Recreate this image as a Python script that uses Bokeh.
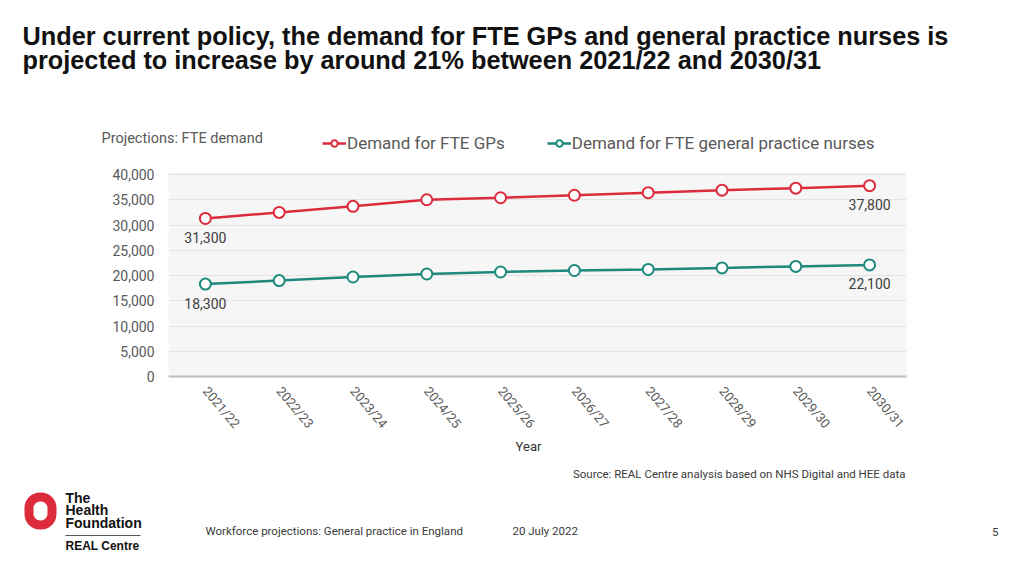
from bokeh.plotting import figure
from bokeh.layouts import column
from bokeh.models import (FactorRange, Range1d, FixedTicker, NumeralTickFormatter,
                          Label, Legend, LegendItem, BoxAnnotation, ColumnDataSource)
from bokeh.core.properties import value
from bokeh.embed import file_html
from bokeh.resources import INLINE

years = ["2021/22", "2022/23", "2023/24", "2024/25", "2025/26",
         "2026/27", "2027/28", "2028/29", "2029/30", "2030/31"]
gp_demand = [31300, 32500, 33700, 35000, 35400, 35900, 36400, 36900, 37300, 37800]
nurse_demand = [18300, 19000, 19700, 20300, 20700, 21000, 21200, 21500, 21800, 22100]
y_ticks = [0, 5000, 10000, 15000, 20000, 25000, 30000, 35000, 40000]
series_names = ["Demand for FTE GPs", "Demand for FTE general practice nurses"]

RED = "#dc2c3c"
TEAL = "#1e897c"
GREY = "#595959"
DARK = "#3a3a3a"
FONT = "Roboto"
ARIAL = "Liberation Sans"
W = 1008
H_HEAD, H_MAIN, H_FOOT = 160, 278, 122


def blank(height, y_top):
    f = figure(width=W, height=height, x_range=Range1d(0, W), y_range=Range1d(y_top + height, y_top),
               x_axis_type=None, y_axis_type=None, output_backend="svg", toolbar_location=None,
               min_border=0, frame_align=False)
    f.outline_line_color = None
    return f


def lab(fig, text, x, y, size, color=DARK, bold=False, align="left", baseline="middle", font=FONT):
    fig.add_layout(Label(x=x, y=y, text=text, text_font=font, text_font_size=size,
                         text_color=color, text_font_style="bold" if bold else "normal",
                         text_align=align, text_baseline=baseline))


def series(fig, xs, ys, color):
    ln = fig.line(xs, ys, line_color=color, line_width=2.5)
    pt = fig.scatter(xs, ys, marker="circle", size=11, fill_color="white",
                     line_color=color, line_width=2)
    return [ln, pt]


# ---------- header: title, chart heading and legend ----------
header = blank(H_HEAD, 0)
lab(header, "Under current policy, the demand for FTE GPs and general practice nurses is",
    22, 35, "25.3px", color="#111111", bold=True, font=ARIAL)
lab(header, "projected to increase by around 21% between 2021/22 and 2030/31",
    22, 59.5, "25.3px", color="#111111", bold=True, font=ARIAL)
lab(header, "Projections: FTE demand", 101, 138, "14.5px", color=GREY)

# legend keys (series styles; values lie outside this strip so only the keys show)
idx = list(range(len(years)))
h_gp = series(header, idx, gp_demand, RED)
h_nu = series(header, idx, nurse_demand, TEAL)
legend = Legend(items=[LegendItem(label=series_names[0], renderers=h_gp),
                       LegendItem(label=series_names[1], renderers=h_nu)],
                orientation="horizontal", location=(322, 7), padding=0, margin=0,
                spacing=42, label_standoff=1, glyph_width=24, glyph_height=16,
                label_text_font=FONT, label_text_font_size="17px", label_text_color=GREY,
                background_fill_alpha=0, border_line_alpha=0)
header.add_layout(legend, "center")

# ---------- main chart ----------
p = figure(width=W, height=H_MAIN, x_range=FactorRange(*years), y_range=Range1d(0, 40400),
           output_backend="svg", toolbar_location=None, frame_align=False,
           min_border_left=168, min_border_right=102, min_border_top=12, min_border_bottom=59)
p.outline_line_color = None
p.background_fill_color = "#f6f6f6"
p.border_fill_color = "white"

p.yaxis.ticker = FixedTicker(ticks=y_ticks)
p.yaxis.formatter = NumeralTickFormatter(format="0,0")
p.yaxis.axis_line_color = None
p.yaxis.major_tick_line_color = None
p.yaxis.major_tick_out = 0
p.yaxis.minor_tick_line_color = None
p.yaxis.major_label_standoff = 14
p.yaxis.major_label_text_font = FONT
p.yaxis.major_label_text_font_size = "14px"
p.yaxis.major_label_text_color = GREY

p.xaxis.axis_line_color = "#bdbdbd"
p.xaxis.axis_line_width = 2
p.xaxis.major_tick_line_color = None
p.xaxis.major_tick_out = 0
p.xaxis.minor_tick_line_color = None
p.xaxis.major_label_orientation = -0.87
p.xaxis.major_label_standoff = 12
p.xaxis.major_label_text_font = FONT
p.xaxis.major_label_text_font_size = "13px"
p.xaxis.major_label_text_color = GREY

p.xgrid.grid_line_color = None
p.ygrid.grid_line_color = "#e3e3e3"
p.ygrid.grid_line_width = 1

series(p, years, gp_demand, RED)
series(p, years, nurse_demand, TEAL)

lab_y = [gp_demand[0], gp_demand[-1], nurse_demand[0], nurse_demand[-1]]
lab_src = ColumnDataSource(dict(x=[years[0], years[-1], years[0], years[-1]], y=lab_y,
                                t=[f"{v:,}" for v in lab_y]))
p.text(x="x", y="y", text="t", source=lab_src, y_offset=19, text_align="center",
       text_baseline="middle", text_font=value(FONT), text_font_size="14px",
       text_color="#404040")

# ---------- footer ----------
footer = blank(H_FOOT, H_HEAD + H_MAIN)
lab(footer, "Year", 528, 446, "13px", color="#333333", align="center")
lab(footer, "Source: REAL Centre analysis based on NHS Digital and HEE data", 905, 473, "11.5px",
    align="right")
lab(footer, "Workforce projections: General practice in England", 205, 530, "11.5px")
lab(footer, "20 July 2022", 512, 530, "11.5px")
lab(footer, "5", 998, 531, "11.5px", align="right")
lab(footer, "The", 65, 497.5, "14px", color="#111111", bold=True, font=ARIAL)
lab(footer, "Health", 65, 509.5, "14px", color="#111111", bold=True, font=ARIAL)
lab(footer, "Foundation", 65, 522.8, "14px", color="#111111", bold=True, font=ARIAL)
lab(footer, "REAL Centre", 65, 545.2, "12px", color="#111111", bold=True, font=ARIAL)
footer.add_layout(BoxAnnotation(left=28.5, right=51.5, top=496.5, bottom=524.5,
                                fill_alpha=0, line_color=RED, line_alpha=1, line_width=9,
                                border_radius=11))
footer.add_layout(BoxAnnotation(left=65, right=140, top=534.6, bottom=535.6,
                                fill_color="#555555", fill_alpha=1, line_alpha=0))

layout = column(header, p, footer, spacing=0)
open("out.html", "w").write(file_html(layout, INLINE))
